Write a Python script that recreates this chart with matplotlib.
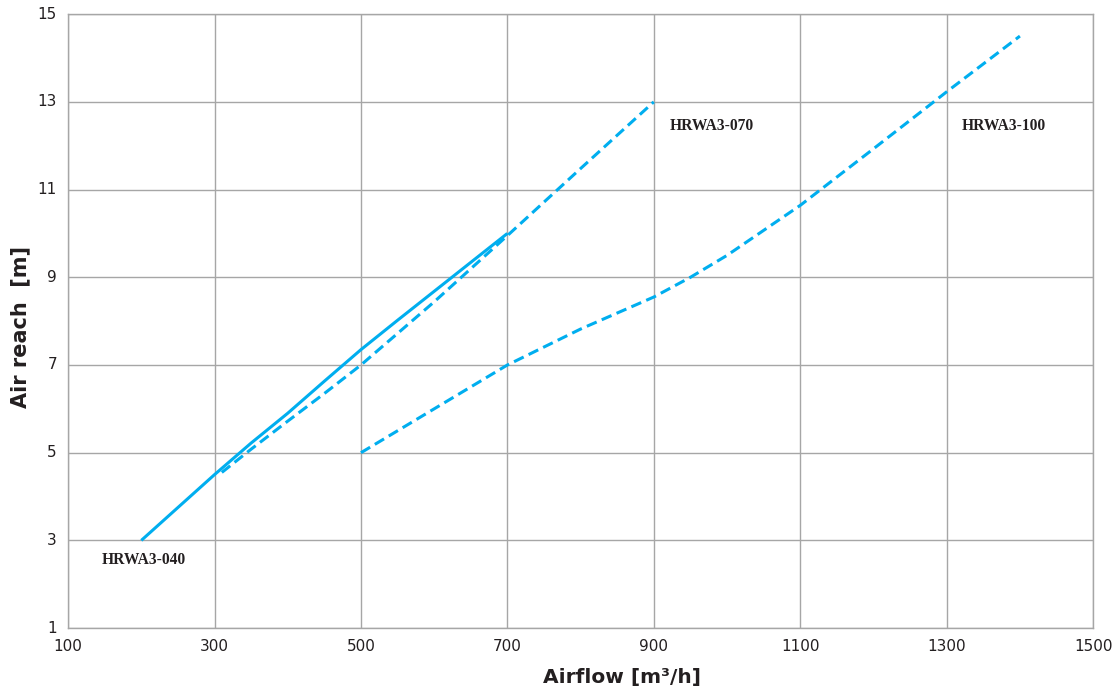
import matplotlib.pyplot as plt

# HRWA3-040 (solid)
x_040 = [200, 250, 300, 350, 400, 450, 500, 550, 600, 650, 700]
y_040 = [3.0, 3.75, 4.5, 5.22, 5.9, 6.63, 7.35, 8.02, 8.68, 9.34, 10.0]

# HRWA3-070 (dashed)
x_070 = [310, 350, 400, 450, 500, 600, 700, 800, 900]
y_070 = [4.55, 5.08, 5.72, 6.35, 7.0, 8.44, 9.95, 11.48, 13.0]

# HRWA3-100 (dashed)
x_100 = [500, 600, 700, 800, 900, 950, 1000, 1100, 1200, 1300, 1400]
y_100 = [5.0, 6.0, 7.0, 7.82, 8.55, 9.0, 9.5, 10.64, 11.93, 13.23, 14.5]

labels = ['HRWA3-040', 'HRWA3-070', 'HRWA3-100']
label_pos = [(146, 2.55), (921, 12.45), (1321, 12.45)]

xticks = [100, 300, 500, 700, 900, 1100, 1300, 1500]
yticks = [1, 3, 5, 7, 9, 11, 13, 15]

blue = '#00aeef'
grid_col = '#a6a6a6'

fig = plt.figure(figsize=(11.16, 6.91), dpi=100)
ax = fig.add_axes([0.061, 0.091, 0.9185, 0.8885])

ax.plot(x_040, y_040, color=blue, lw=2.2, solid_capstyle='butt')
ax.plot(x_070, y_070, color=blue, lw=2.2, ls=(0, (3.5, 1.8)))
ax.plot(x_100, y_100, color=blue, lw=2.2, ls=(0, (3.5, 1.8)))

for txt, (lx, ly) in zip(labels, label_pos):
    ax.text(lx, ly, txt, fontsize=11.2, fontweight='bold', family='Liberation Serif',
            color='#231f20', va='center', ha='left')

ax.set_xlim(100, 1500)
ax.set_ylim(1, 15)
ax.set_xticks(xticks)
ax.set_yticks(yticks)
ax.grid(True, color=grid_col, lw=1)
ax.set_axisbelow(True)
for s in ax.spines.values():
    s.set_color(grid_col)
    s.set_linewidth(1)
ax.tick_params(length=0, labelsize=11, colors='#231f20', pad=8)
for lab in ax.get_yticklabels():
    lab.set_verticalalignment('center')

ax.set_xlabel('Airflow [m³/h]', fontsize=14.5, fontweight='bold', color='#231f20')
ax.set_ylabel('Air reach  [m]', fontsize=15, fontweight='bold', color='#231f20')
ax.xaxis.set_label_coords(0.54, -0.081)
ax.yaxis.set_label_coords(-0.047, 0.49)
ax.xaxis.label.set_va('center')
ax.yaxis.label.set_va('center')

plt.savefig('out.png', dpi=100)
